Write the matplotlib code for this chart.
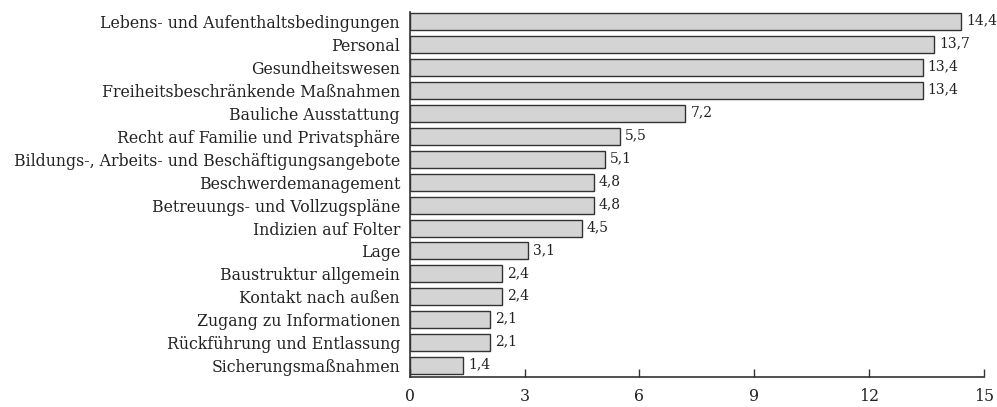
import matplotlib
matplotlib.use("Agg")
import matplotlib.pyplot as plt

categories = [
    "Lebens- und Aufenthaltsbedingungen",
    "Personal",
    "Gesundheitswesen",
    "Freiheitsbeschränkende Maßnahmen",
    "Bauliche Ausstattung",
    "Recht auf Familie und Privatsphäre",
    "Bildungs-, Arbeits- und Beschäftigungsangebote",
    "Beschwerdemanagement",
    "Betreuungs- und Vollzugspläne",
    "Indizien auf Folter",
    "Lage",
    "Baustruktur allgemein",
    "Kontakt nach außen",
    "Zugang zu Informationen",
    "Rückführung und Entlassung",
    "Sicherungsmaßnahmen",
]
values = [14.4, 13.7, 13.4, 13.4, 7.2, 5.5, 5.1, 4.8, 4.8, 4.5, 3.1, 2.4, 2.4, 2.1, 2.1, 1.4]
xticks = [0, 3, 6, 9, 12, 15]

plt.rcParams['font.family'] = ['DejaVu Serif']
fig = plt.figure(figsize=(9.97, 4.07), dpi=100)
ax = fig.add_axes([0.411, 0.074, 0.576, 0.897])

y = list(range(len(categories)))
ax.barh(y, values, height=0.74, color='#d4d4d4', edgecolor='#333333', linewidth=1.0)
for yi, v in zip(y, values):
    ax.text(v + 0.13, yi - 0.05, f"{v:.1f}".replace('.', ','), va='center', ha='left',
            fontsize=10, color='#222222')

ax.set_yticks(y)
ax.set_yticklabels(categories, fontsize=11.3, color='#222222')
for lbl in ax.get_yticklabels():
    lbl.set_verticalalignment('center_baseline')
ax.tick_params(axis='y', length=0, pad=7)
ax.set_xticks(xticks)
ax.set_xticklabels([str(t) for t in xticks], fontsize=11.3, color='#222222')
ax.tick_params(axis='x', direction='in', length=6, width=1, color='#333333', pad=8)
ax.set_xlim(0, 15)
ax.set_ylim(15.48, -0.41)
for s in ['top', 'right']:
    ax.spines[s].set_visible(False)
for s in ['left', 'bottom']:
    ax.spines[s].set_color('#333333')
    ax.spines[s].set_linewidth(1.2)
ax.spines['bottom'].set_bounds(0, 15)

fig.savefig('out.png', dpi=100)
